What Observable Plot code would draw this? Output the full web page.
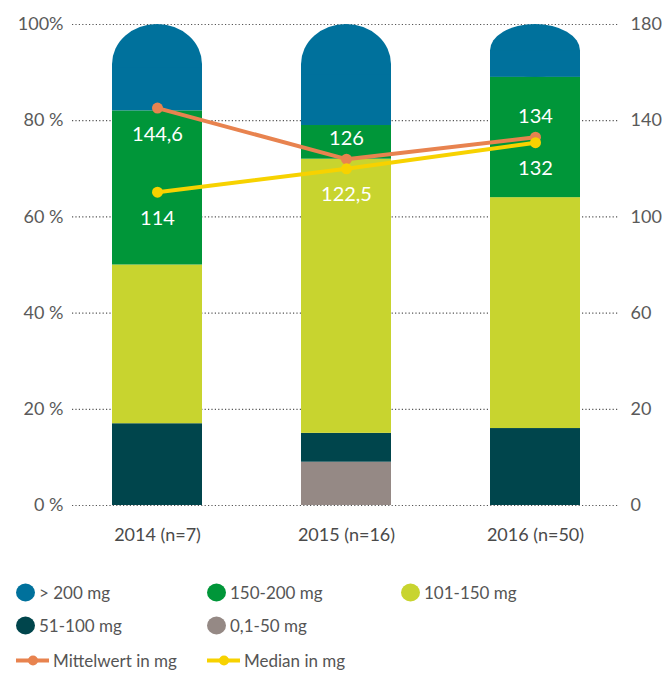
<!DOCTYPE html>
<html>
<head>
<meta charset="utf-8">
<script src="https://cdn.jsdelivr.net/npm/d3@7"></script>
<script src="https://cdn.jsdelivr.net/npm/@observablehq/plot@0.6"></script>
<style>
  body { margin: 0; background: #fff; font-family: Lato, "Open Sans", sans-serif; }
  #wrap { position: relative; width: 662px; height: 673px; }
  #legend { position: absolute; left: 0; top: 0; width: 662px; height: 673px; pointer-events: none; }
  .item { position: absolute; display: flex; align-items: center; font-size: 17px; color: #555; white-space: nowrap; transform: translateY(-50%); }
  .sw { width: 19px; height: 18px; border-radius: 50%; margin-right: 4px; }
  .ln { position: relative; width: 33px; height: 4px; margin-right: 4px; }
  .ln span { position: absolute; left: 12px; top: -3px; width: 10px; height: 10px; border-radius: 50%; }
</style>
</head>
<body>
<div id="wrap"><div id="chart"></div><div id="legend"></div></div>
<script>
// ---- data ----
const years = ["2014 (n=7)", "2015 (n=16)", "2016 (n=50)"];
const classes = ["0,1-50 mg", "51-100 mg", "101-150 mg", "150-200 mg", "> 200 mg"];
const share0_50   = [0, 9, 0];
const share51_100 = [17, 6, 16];
const share101_150 = [33, 57, 48];
const share150_200 = [32, 7, 25];
const shareOver200 = [18, 21, 11];
const mittelwert = [144.6, 126, 134];
const median = [114, 122.5, 132];
const mittelwertLabels = ["144,6", "126", "134"];
const medianLabels = ["114", "122,5", "132"];
const leftTickValues = [0, 20, 40, 60, 80, 100];
const leftTickLabels = ["0 %", "20 %", "40 %", "60 %", "80 %", "100%"];
const rightTickLabels = ["0", "20", "60", "100", "140", "180"];
const classColors = ["#958985", "#00454c", "#c8d42f", "#009639", "#00719c"];
const seriesNames = ["Mittelwert in mg", "Median in mg"];
const seriesColors = ["#e8834f", "#f7d200"];

// ---- build tables ----
const shares = [share0_50, share51_100, share101_150, share150_200, shareOver200];
const rows = [];
years.forEach((yr, i) => {
  let acc = 0;
  classes.forEach((c, k) => {
    const v = shares[k][i];
    rows.push({year: yr, cls: c, y1: acc, y2: acc + v});
    acc += v;
  });
});
const topRows = rows.filter(d => d.cls === "> 200 mg");
const otherRows = rows.filter(d => d.cls !== "> 200 mg");

// secondary (mg) scale mapped onto the percent axis
const sec = d3.scaleLinear([0, 175], [0, 100]);
const mRows = years.map((yr, i) => ({year: yr, v: mittelwert[i], label: mittelwertLabels[i], i}));
const dRows = years.map((yr, i) => ({year: yr, v: median[i], label: medianLabels[i], i}));

const font = "Lato, 'Open Sans', sans-serif";
const chart = Plot.plot({
  width: 662,
  height: 550,
  marginLeft: 72,
  marginRight: 43,
  marginTop: 24,
  marginBottom: 45,
  style: {fontFamily: font, background: "#fff"},
  x: {domain: years, paddingInner: 0.524, paddingOuter: 0.206, label: null},
  y: {domain: [0, 100], label: null},
  color: {domain: classes, range: classColors},
  marks: [
    Plot.gridY(leftTickValues, {stroke: "#555", strokeOpacity: 1, strokeDasharray: "1.2,2.2", strokeWidth: 1.2}),
    Plot.barY(topRows, {x: "year", y1: "y1", y2: "y2", fill: "cls", rx: 45, ry: 40}),
    Plot.barY(topRows, {x: "year", y1: "y1", y2: d => (d.y1 + d.y2) / 2, fill: "cls"}),
    Plot.barY(otherRows, {x: "year", y1: "y1", y2: "y2", fill: "cls"}),
    Plot.axisY(leftTickValues, {anchor: "left", tickSize: 0, tickPadding: 9, tickFormat: (d, i) => leftTickLabels[i], fontSize: 18, fill: "#5a5a5a", label: null}),
    Plot.axisY(leftTickValues, {anchor: "right", tickSize: 0, tickPadding: 11, tickFormat: (d, i) => rightTickLabels[i], fontSize: 18, fill: "#5a5a5a", label: null}),
    Plot.axisX({tickSize: 0, tickPadding: 23, fontSize: 18, fill: "#4a4a4a", label: null}),
    Plot.line(mRows, {x: "year", y: d => sec(d.v), stroke: seriesColors[0], strokeWidth: 4}),
    Plot.line(dRows, {x: "year", y: d => sec(d.v), stroke: seriesColors[1], strokeWidth: 4}),
    Plot.dot(mRows, {x: "year", y: d => sec(d.v), r: 5.5, fill: seriesColors[0]}),
    Plot.dot(dRows, {x: "year", y: d => sec(d.v), r: 5.5, fill: seriesColors[1]}),
    Plot.text(mRows.filter(d => d.i === 0), {x: "year", y: d => sec(d.v), text: "label", dy: 27, fill: "#fff", fontSize: 20}),
    Plot.text(mRows.filter(d => d.i > 0), {x: "year", y: d => sec(d.v), text: "label", dy: -21, fill: "#fff", fontSize: 20}),
    Plot.text(dRows, {x: "year", y: d => sec(d.v), text: "label", dy: 26, fill: "#fff", fontSize: 20})
  ]
});
document.getElementById("chart").appendChild(chart);

// ---- legend ----
const legend = document.getElementById("legend");
const order = [4, 3, 2, 1, 0];
const pos = [[16, 592], [207, 592], [401, 592], [16, 625], [207, 625]];
order.forEach((k, j) => {
  const el = document.createElement("div");
  el.className = "item";
  el.style.left = pos[j][0] + "px";
  el.style.top = pos[j][1] + "px";
  el.innerHTML = `<div class="sw" style="background:${classColors[k]}"></div>${classes[k]}`;
  legend.appendChild(el);
});
const lpos = [[16, 660], [207, 660]];
seriesNames.forEach((s, j) => {
  const el = document.createElement("div");
  el.className = "item";
  el.style.left = lpos[j][0] + "px";
  el.style.top = lpos[j][1] + "px";
  el.innerHTML = `<div class="ln" style="background:${seriesColors[j]}"><span style="background:${seriesColors[j]}"></span></div>${s}`;
  legend.appendChild(el);
});
</script>
</body>
</html>
